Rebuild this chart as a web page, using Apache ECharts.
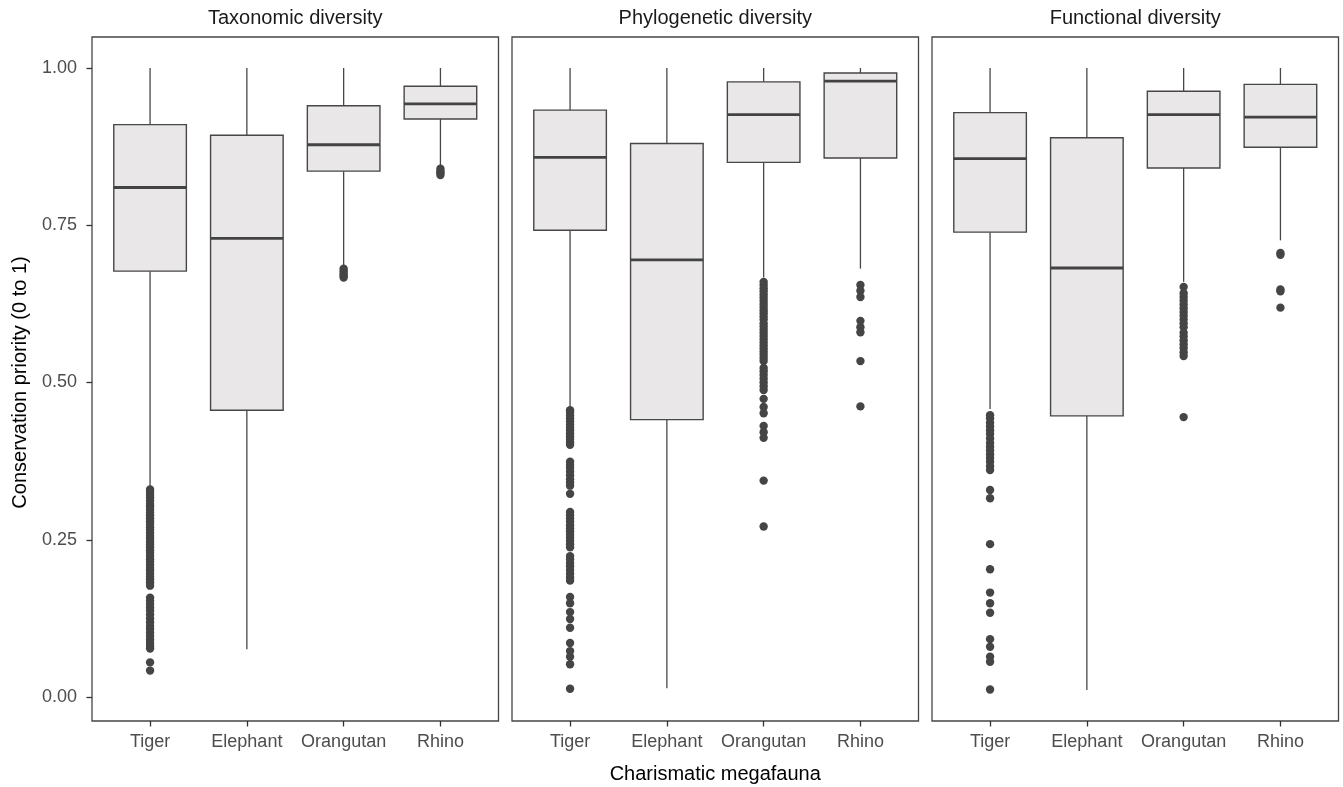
<!DOCTYPE html>
<html>
<head>
<meta charset="utf-8">
<script src="https://cdn.jsdelivr.net/npm/echarts@6/dist/echarts.min.js"></script>
<style>
html,body{margin:0;padding:0;background:#fff;}
#chart{width:1343px;height:787px;}
</style>
</head>
<body>
<div id="chart"></div>
<script>
// ---- data ----
const categories = ['Tiger', 'Elephant', 'Orangutan', 'Rhino'];
const panelTitles = ['Taxonomic diversity', 'Phylogenetic diversity', 'Functional diversity'];
const xTitle = 'Charismatic megafauna';
const yTitle = 'Conservation priority (0 to 1)';
const yTickValues = [0, 0.25, 0.5, 0.75, 1];

// box stats: [lower whisker, Q1, median, Q3, upper whisker] per category
const taxBox = [
  [0.334, 0.677, 0.810, 0.910, 1.0],
  [0.076, 0.456, 0.729, 0.893, 1.0],
  [0.686, 0.836, 0.878, 0.940, 1.0],
  [0.845, 0.919, 0.943, 0.971, 1.0]
];
const phyloBox = [
  [0.461, 0.742, 0.858, 0.933, 1.0],
  [0.014, 0.441, 0.695, 0.880, 1.0],
  [0.667, 0.850, 0.926, 0.978, 1.0],
  [0.681, 0.857, 0.979, 0.992, 1.0]
];
const funcBox = [
  [0.458, 0.739, 0.856, 0.929, 1.0],
  [0.011, 0.447, 0.682, 0.889, 1.0],
  [0.660, 0.841, 0.926, 0.963, 1.0],
  [0.726, 0.874, 0.922, 0.974, 1.0]
];

// outliers per category
const taxOutliers = [
  [0.330, 0.326, 0.321, 0.317, 0.312, 0.307, 0.303, 0.298, 0.293, 0.289, 0.284, 0.279, 0.275, 0.270, 0.266, 0.261, 0.256, 0.252, 0.247, 0.243, 0.238, 0.233, 0.229, 0.224, 0.219, 0.215, 0.210, 0.205, 0.201, 0.196, 0.191, 0.187, 0.182, 0.177,
   0.158, 0.153, 0.148, 0.142, 0.137, 0.131, 0.125, 0.119, 0.113, 0.108, 0.102, 0.097, 0.091, 0.086, 0.081, 0.077, 0.055, 0.042],
  [],
  [0.681, 0.677, 0.673, 0.670, 0.667],
  [0.840, 0.836, 0.833, 0.830]
];
const phyloOutliers = [
  [0.456, 0.452, 0.447, 0.443, 0.438, 0.433, 0.428, 0.424, 0.419, 0.414, 0.410, 0.405, 0.401,
   0.374, 0.369, 0.364, 0.358, 0.352, 0.346, 0.341, 0.336, 0.323,
   0.294, 0.289, 0.284, 0.279, 0.273, 0.268, 0.263, 0.258, 0.253, 0.248, 0.243, 0.238,
   0.224, 0.219, 0.213, 0.208, 0.202, 0.196, 0.190, 0.185,
   0.159, 0.149, 0.135, 0.124, 0.110, 0.086, 0.073, 0.064, 0.052, 0.013],
  [],
  [0.660, 0.655, 0.650, 0.645, 0.640, 0.635, 0.630, 0.625, 0.620, 0.615, 0.610, 0.605, 0.600, 0.594, 0.589, 0.584, 0.579, 0.574, 0.569, 0.564, 0.559, 0.554, 0.549, 0.544, 0.539, 0.534,
   0.523, 0.518, 0.512, 0.506, 0.500, 0.494, 0.488, 0.474, 0.461, 0.451, 0.431, 0.421, 0.412, 0.344, 0.271],
  [0.655, 0.646, 0.636, 0.598, 0.588, 0.580, 0.534, 0.462]
];
const funcOutliers = [
  [0.448, 0.443, 0.436, 0.430, 0.424, 0.418, 0.411, 0.404, 0.398, 0.392, 0.386, 0.380, 0.374, 0.367, 0.361,
   0.329, 0.316, 0.243, 0.203, 0.166, 0.149, 0.134, 0.092, 0.080, 0.064, 0.056, 0.012],
  [],
  [0.652, 0.642, 0.636, 0.630, 0.624, 0.618, 0.612, 0.606, 0.600, 0.594, 0.588, 0.579, 0.573, 0.567, 0.561, 0.555, 0.548, 0.542, 0.445],
  [0.706, 0.703, 0.648, 0.645, 0.619]
];

const boxSets = [taxBox, phyloBox, funcBox];
const outlierSets = [taxOutliers, phyloOutliers, funcOutliers];

// ---- layout / style ----
const FONT = '"Liberation Sans", Arial, Helvetica, sans-serif';
const panelLeft = [92, 512, 932];
const panelWidth = 406.5;
const frameTop = 37, frameBottom = 721;
const y0px = 697, y1px = 68;              // pixel rows of values 0 and 1
const pxPerUnit = y0px - y1px;
const yMin = -(frameBottom - y0px) / pxPerUnit;
const yMax = 1 + (y1px - frameTop) / pxPerUnit;
const unit = panelWidth / 4.2;
const lineCol = '#474747';
const boxFill = '#e9e7e8';
const pointCol = '#454545';

const grid = [], xAxis = [], yAxis = [], series = [];

// frame grids (0..2)
for (let p = 0; p < 3; p++) {
  grid.push({
    left: panelLeft[p], width: panelWidth, top: frameTop, height: frameBottom - frameTop,
    show: true, borderColor: '#454545', borderWidth: 1.3, backgroundColor: 'transparent',
    containLabel: false
  });
  xAxis.push({ type: 'value', gridIndex: p, show: false, min: 0, max: 1 });
  yAxis.push({ type: 'value', gridIndex: p, show: false, min: 0, max: 1 });
}
// data grids (3..5)
for (let p = 0; p < 3; p++) {
  const gi = 3 + p;
  grid.push({
    left: panelLeft[p] + unit * 0.1, width: unit * 4, top: frameTop, height: frameBottom - frameTop,
    show: false, containLabel: false
  });
  xAxis.push({
    type: 'category', gridIndex: gi, data: categories, boundaryGap: true,
    position: 'bottom',
    axisLine: { show: false, onZero: false },
    axisTick: { show: true, alignWithLabel: true, interval: 0, length: 5.5, lineStyle: { color: '#333333', width: 1.3 } },
    axisLabel: { interval: 0, color: '#4d4d4d', fontSize: 18, margin: 12, fontFamily: FONT },
    splitLine: { show: false }
  });
  yAxis.push({
    type: 'value', gridIndex: gi, min: yMin, max: yMax,
    show: p === 0,
    position: 'left', offset: unit * 0.1,
    axisLine: { show: false, onZero: false },
    axisTick: { show: true, customValues: yTickValues, length: 5.5, lineStyle: { color: '#333333', width: 1.3 } },
    axisLabel: { customValues: yTickValues, color: '#4d4d4d', fontSize: 18, margin: 15, fontFamily: FONT,
      formatter: v => Number(v).toFixed(2) },
    splitLine: { show: false }
  });

  const boxes = boxSets[p].map((b, i) => [i, b[0], b[1], b[2], b[3], b[4]]);
  series.push({
    type: 'custom', xAxisIndex: 3 + p, yAxisIndex: 3 + p, clip: false, silent: true,
    encode: { x: 0, y: [1, 2, 3, 4, 5] },
    data: boxes,
    renderItem: function (params, api) {
      const x = api.value(0);
      const pMin = api.coord([x, api.value(1)]);
      const pQ1 = api.coord([x, api.value(2)]);
      const pMed = api.coord([x, api.value(3)]);
      const pQ3 = api.coord([x, api.value(4)]);
      const pMax = api.coord([x, api.value(5)]);
      const bw = api.size([1, 0])[0] * 0.75;
      const cx = pMed[0];
      return {
        type: 'group',
        children: [
          { type: 'line', shape: { x1: cx, y1: pMax[1], x2: cx, y2: pQ3[1] }, style: { stroke: lineCol, lineWidth: 1.3 } },
          { type: 'line', shape: { x1: cx, y1: pQ1[1], x2: cx, y2: pMin[1] }, style: { stroke: lineCol, lineWidth: 1.3 } },
          { type: 'rect', shape: { x: cx - bw / 2, y: pQ3[1], width: bw, height: pQ1[1] - pQ3[1] },
            style: { fill: boxFill, stroke: lineCol, lineWidth: 1.4 } },
          { type: 'line', shape: { x1: cx - bw / 2, y1: pMed[1], x2: cx + bw / 2, y2: pMed[1] },
            style: { stroke: '#434343', lineWidth: 2.8 } }
        ]
      };
    }
  });

  const pts = [];
  outlierSets[p].forEach((arr, i) => arr.forEach(v => pts.push([i, v])));
  series.push({
    type: 'scatter', xAxisIndex: 3 + p, yAxisIndex: 3 + p, clip: false, silent: true,
    symbol: 'circle', symbolSize: 8.4,
    itemStyle: { color: pointCol, opacity: 1 },
    data: pts
  });
}

const graphics = [];
for (let p = 0; p < 3; p++) {
  graphics.push({
    type: 'text', x: panelLeft[p] + panelWidth / 2, y: 18, silent: true,
    style: { text: panelTitles[p], fill: '#1a1a1a', font: '20px ' + FONT,
      textAlign: 'center', textVerticalAlign: 'middle', align: 'center', verticalAlign: 'middle' }
  });
}
graphics.push({
  type: 'text', x: panelLeft[1] + panelWidth / 2, y: 774, silent: true,
  style: { text: xTitle, fill: '#000000', font: '20px ' + FONT,
    textAlign: 'center', textVerticalAlign: 'middle', align: 'center', verticalAlign: 'middle' }
});
graphics.push({
  type: 'text', x: 20, y: (y0px + y1px) / 2, rotation: Math.PI / 2, silent: true,
  style: { text: yTitle, fill: '#000000', font: '20px ' + FONT,
    textAlign: 'center', textVerticalAlign: 'middle', align: 'center', verticalAlign: 'middle' }
});

const chart = echarts.init(document.getElementById('chart'), null, { renderer: 'canvas' });
chart.setOption({
  animation: false,
  backgroundColor: '#ffffff',
  textStyle: { fontFamily: FONT },
  grid: grid,
  xAxis: xAxis,
  yAxis: yAxis,
  series: series,
  graphic: { elements: graphics }
});
</script>
</body>
</html>
